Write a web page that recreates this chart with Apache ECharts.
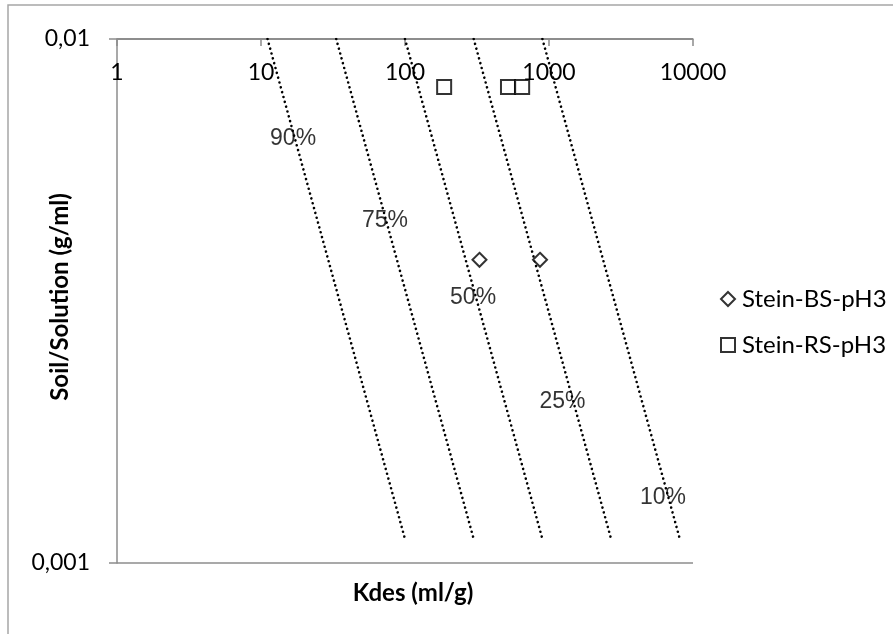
<!DOCTYPE html>
<html>
<head>
<meta charset="utf-8">
<script src="https://cdn.jsdelivr.net/npm/echarts@6/dist/echarts.min.js"></script>
<style>
  html, body { margin: 0; padding: 0; background: #fff; }
  #chart { width: 893px; height: 634px; }
</style>
</head>
<body>
<div id="chart"></div>
<script>
// Desorption coefficients (Kdes, ml/g) against soil/solution ratio (g/ml)
const bsKdes = [329, 866];
const bsRatio = [0.00379, 0.00379];
const rsKdes = [187, 519, 651];
const rsRatio = [0.0081, 0.0081, 0.0081];

// Iso-desorption guide lines: percent desorbed and their two end points
const curveNames = ['90%', '75%', '50%', '25%', '10%'];
const curveKdesTop = [11.1, 33.3, 100, 300, 900];
const curveKdesBottom = [101, 303, 909, 2727, 8182];
const curveRatioTop = 0.01;
const curveRatioBottom = 0.0011;
// Where each percentage label sits (Kdes, ratio)
const curveLabelKdes = [16.7, 72.6, 297, 1240, 6190];
const curveLabelRatio = [0.00646, 0.00451, 0.00321, 0.00203, 0.00133];

// Axis ticks
const xTicks = [1, 10, 100, 1000, 10000];
const yTicks = [0.001, 0.01];

const axisGray = '#8c8c8c';
const calibriLike = 'Lato, "Open Sans", sans-serif';

const chart = echarts.init(document.getElementById('chart'), null, { renderer: 'canvas' });

const curveSeries = curveNames.map((name, i) => ({
  name: name,
  type: 'line',
  symbol: 'none',
  silent: true,
  data: [[curveKdesTop[i], curveRatioTop], [curveKdesBottom[i], curveRatioBottom]],
  lineStyle: { color: '#000', width: 2.6, type: [0.01, 5], cap: 'round' },
  z: 2
}));

const labelSeries = {
  name: 'percent labels',
  type: 'scatter',
  symbolSize: 0,
  silent: true,
  data: curveNames.map((n, i) => ({ value: [curveLabelKdes[i], curveLabelRatio[i]], name: n })),
  label: {
    show: true,
    position: 'inside',
    formatter: p => p.name,
    fontFamily: '"Liberation Sans", Arial, sans-serif',
    fontSize: 23,
    color: '#000',
    textBorderWidth: 0
  },
  z: 3
};

const option = {
  animation: false,
  backgroundColor: '#fff',
  grid: { left: 117, top: 39, width: 576, height: 524, containLabel: false },
  xAxis: {
    type: 'log',
    logBase: 10,
    min: xTicks[0],
    max: xTicks[xTicks.length - 1],
    position: 'top',
    axisLine: { show: true, lineStyle: { color: axisGray, width: 1.5 } },
    axisTick: { show: true, inside: true, length: 7, lineStyle: { color: axisGray, width: 1.5 } },
    minorTick: { show: false },
    splitLine: { show: false },
    axisLabel: {
      inside: true,
      margin: 34,
      verticalAlign: 'middle',
      fontFamily: calibriLike,
      fontSize: 23,
      color: '#000',
      formatter: v => String(v)
    }
  },
  yAxis: {
    type: 'log',
    logBase: 10,
    min: yTicks[0],
    max: yTicks[yTicks.length - 1],
    axisLine: { show: true, lineStyle: { color: axisGray, width: 1.5 } },
    axisTick: { show: true, inside: false, length: 8, lineStyle: { color: axisGray, width: 1.5 } },
    minorTick: { show: false },
    splitLine: { show: true, lineStyle: { color: axisGray, width: 1.5 } },
    axisLabel: {
      margin: 27,
      fontFamily: calibriLike,
      fontSize: 23,
      color: '#000',
      formatter: v => String(v).replace('.', ',')
    }
  },
  legend: {
    orient: 'vertical',
    left: 715,
    top: 282,
    itemGap: 22,
    itemWidth: 14,
    itemHeight: 14,
    data: ['Stein-BS-pH3', 'Stein-RS-pH3'],
    textStyle: { fontFamily: calibriLike, fontSize: 24, color: '#000', padding: [0, 0, 0, 2] }
  },
  graphic: [
    {
      type: 'rect',
      shape: { x: 8, y: 5, width: 1000, height: 1000 },
      style: { fill: 'none', stroke: '#a6a6a6', lineWidth: 1.5 },
      silent: true,
      z: 0
    },
    {
      type: 'text',
      x: 413, y: 593,
      style: {
        text: 'Kdes (ml/g)',
        fontFamily: calibriLike, fontWeight: 'bold', fontSize: 24,
        fill: '#000', textAlign: 'center', textVerticalAlign: 'middle'
      }
    },
    {
      type: 'text',
      x: 60, y: 297,
      rotation: Math.PI / 2,
      style: {
        text: 'Soil/Solution (g/ml)',
        fontFamily: calibriLike, fontWeight: 'bold', fontSize: 24,
        fill: '#000', textAlign: 'center', textVerticalAlign: 'middle'
      }
    }
  ],
  series: [
    ...curveSeries,
    labelSeries,
    {
      name: 'Stein-BS-pH3',
      type: 'scatter',
      symbol: 'diamond',
      symbolSize: 14,
      data: bsKdes.map((k, i) => [k, bsRatio[i]]),
      itemStyle: { color: '#fff', borderColor: '#000', borderWidth: 2 },
      z: 4
    },
    {
      name: 'Stein-RS-pH3',
      type: 'scatter',
      symbol: 'rect',
      symbolSize: 14,
      data: rsKdes.map((k, i) => [k, rsRatio[i]]),
      itemStyle: { color: '#fff', borderColor: '#000', borderWidth: 2 },
      z: 4
    }
  ]
};

chart.setOption(option);
</script>
</body>
</html>
